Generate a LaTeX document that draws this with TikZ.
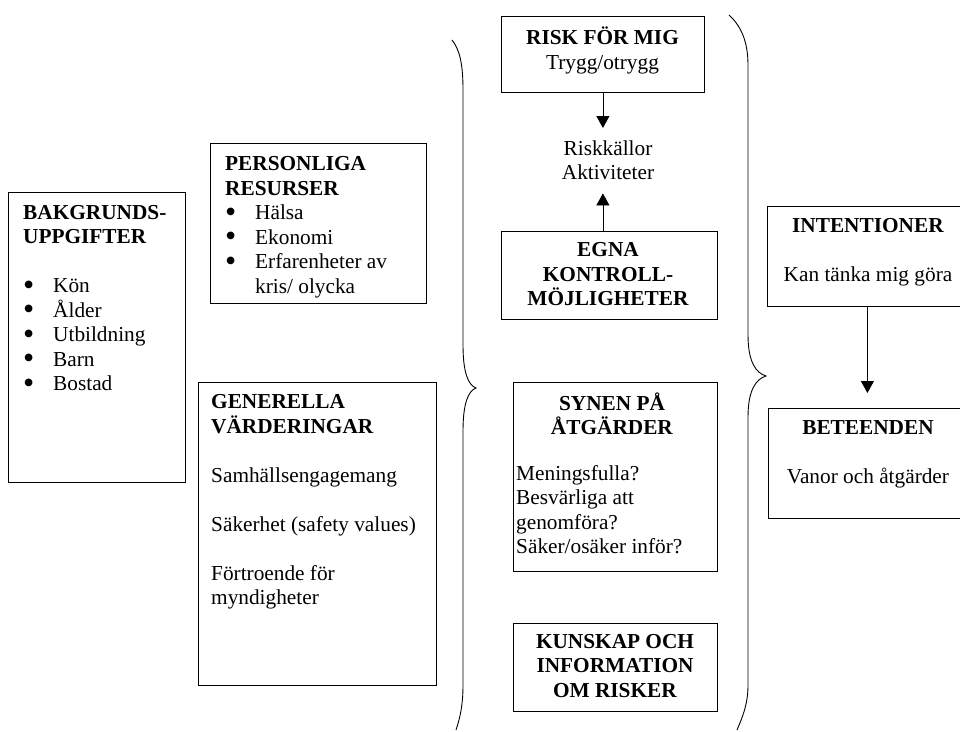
\documentclass[tikz,border=0pt]{standalone}
\usepackage{fontspec}
\setmainfont{Liberation Serif}
\usetikzlibrary{calc,positioning,arrows.meta}
\newcommand{\fst}{\rule{0pt}{19pt}}
\newcommand{\blt}[1]{\makebox[#1][l]{\smash{\raisebox{-2.5pt}{\scalebox{1.5}{\textbullet}}}}}

\begin{document}
\begin{tikzpicture}[x=1pt,y=-1pt,
	box/.style={draw,line width=0.8pt,inner sep=0pt,anchor=north west},
	txt/.style={inner sep=0pt,font={\fontsize{21.3}{24.5}\selectfont}},
	lt/.style={txt,align=left,anchor=north west},
	ct/.style={txt,align=center,anchor=north},
	arr/.style={-{Triangle[length=12pt,width=13pt]},line width=0.8pt},
	brace/.style={line width=0.9pt}]
		\useasboundingbox (0,0) rectangle (960,731);
		\clip (0,0) rectangle (960,731);
		\node[box,minimum width=177pt,minimum height=290pt] (bakg) at (8,192) {};
		\node[box,minimum width=216pt,minimum height=160pt] (pers) at (210,143) {};
		\node[box,minimum width=238pt,minimum height=303pt] (gen) at (198,382) {};
		\node[box,minimum width=203pt,minimum height=76pt] (risk) at (501,16) {};
		\node[box,minimum width=216pt,minimum height=88pt] (egna) at (501,231) {};
		\node[box,minimum width=204pt,minimum height=189pt] (synen) at (513,382) {};
		\node[box,minimum width=204pt,minimum height=88pt] (kunskap) at (513,623) {};
		\node[box,minimum width=200pt,minimum height=100pt] (inten) at (767,206) {};
		\node[box,minimum width=198pt,minimum height=110pt] (bet) at (768,408) {};
		\node[lt] (bakgtxt) at (23,200) {\fst\textbf{BAKGRUNDS-}\\\textbf{UPPGIFTER}\\[24.5pt]\blt{30pt}Kön\\\blt{30pt}Ålder\\\blt{30pt}Utbildning\\\blt{30pt}Barn\\\blt{30pt}Bostad};
		\node[lt] (perstxt) at (225,151.5) {\fst\textbf{PERSONLIGA}\\\textbf{RESURSER}\\\blt{30pt}Hälsa\\\blt{30pt}Ekonomi\\\blt{30pt}Erfarenheter av\\\hspace*{30pt}kris/ olycka};
		\node[lt] (gentxt) at (211,389.5) {\fst\textbf{GENERELLA}\\\textbf{VÄRDERINGAR}\\[24.5pt]Samhällsengagemang\\[24.5pt]Säkerhet (safety values)\\[24.5pt]Förtroende för\\myndigheter};
		\node[ct] (risktxt) at (602.5,25.5) {\fst\textbf{RISK FÖR MIG}\\Trygg/otrygg};
		\node[ct,inner ysep=8pt] (riskk) at (608,128) {\fst Riskkällor\\Aktiviteter\rule[-5.5pt]{0pt}{5.5pt}};
		\node[ct] (egnatxt) at (608,237.7) {\fst\textbf{EGNA}\\\textbf{KONTROLL-}\\\textbf{MÖJLIGHETER}};
		\node[ct] (synentitle) at (612,391) {\fst\textbf{SYNEN PÅ}\\\textbf{ÅTGÄRDER}};
		\node[lt] (synentxt) at (516,461) {\fst Meningsfulla?\\Besvärliga att\\genomföra?\\Säker/osäker inför?};
		\node[ct] (kunskaptxt) at (615,629) {\fst\textbf{KUNSKAP OCH}\\\textbf{INFORMATION}\\\textbf{OM RISKER}};
		\node[ct] (intentxt) at (868,213.5) {\fst\textbf{INTENTIONER}\\[24pt]Kan tänka mig göra};
		\node[ct] (bettxt) at (868,415.5) {\fst\textbf{BETEENDEN}\\[24pt]Vanor och åtgärder};
		\draw[arr] (risk.south) -- (risk.south |- riskk.north);
		\draw[arr] (egna.north -| risk.south) -- (risk.south |- riskk.south);
		\draw[arr,shorten >=15pt] (inten.south) -- (bet.north);
		\draw[brace] (452,40) .. controls (460,50) and (463,65) .. (463,90) -- (463,345) .. controls (463,372) and (468,385) .. (476,388) .. controls (468,391) and (463,404) .. (463,431) -- (463,685) .. controls (463,705) and (460,718) .. (456,730);
		\draw[brace] (729,15) .. controls (740,25) and (748,40) .. (748,65) -- (748,335) .. controls (748,362) and (756,373) .. (766,376) .. controls (756,379) and (748,390) .. (748,417) -- (748,685) .. controls (748,705) and (742,718) .. (737,730);
	\end{tikzpicture}
\end{document}
